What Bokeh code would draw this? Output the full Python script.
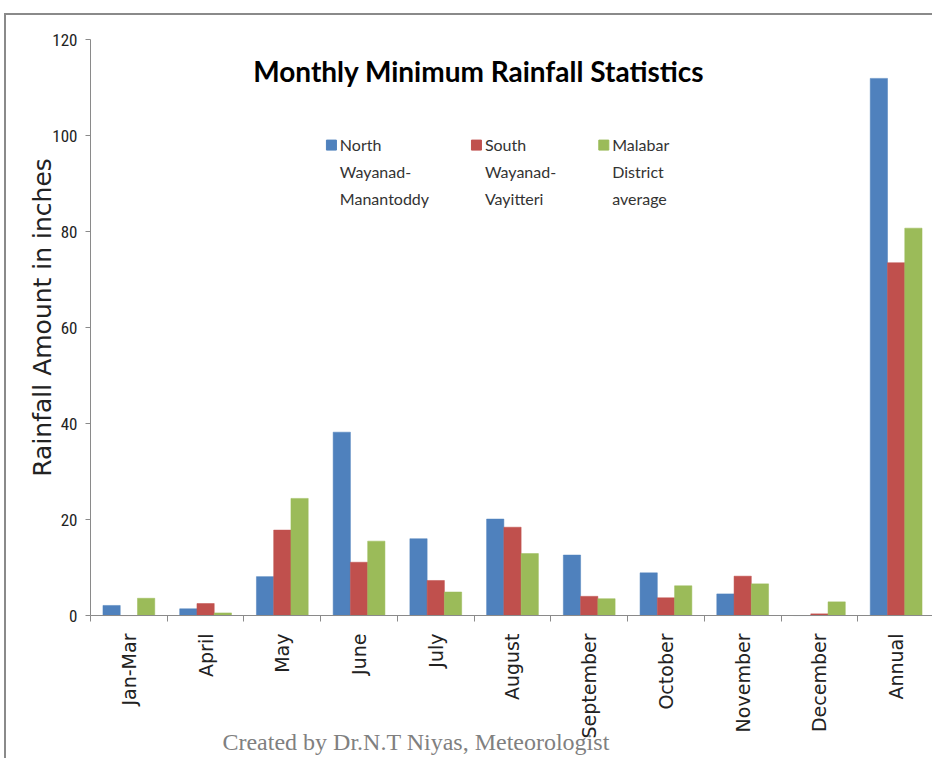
import numpy as np
from bokeh.plotting import figure
from bokeh.models import Range1d, FixedTicker, CustomJSTickFormatter, Label
from bokeh.embed import file_html
from bokeh.resources import INLINE

categories = ["Jan-Mar", "April", "May", "June", "July", "August", "September",
              "October", "November", "December", "Annual"]
north = [2.1, 1.4, 8.1, 38.2, 16.0, 20.1, 12.6, 8.9, 4.5, 0.0, 111.9]
south = [0.0, 2.5, 17.8, 11.1, 7.3, 18.4, 4.0, 3.7, 8.2, 0.35, 73.5]
malabar = [3.6, 0.55, 24.4, 15.5, 4.9, 12.9, 3.5, 6.2, 6.6, 2.85, 80.7]
series_names = [["North", "Wayanad-", "Manantoddy"],
                ["South", "Wayanad-", "Vayitteri"],
                ["Malabar", "District", "average"]]
colors = ["#4F81BD", "#C0504D", "#9BBB59"]
y_ticks = [0, 20, 40, 60, 80, 100, 120]

n = len(categories)
centers = np.arange(n) + 0.5

# The frame covers the whole canvas; both axes sit at fixed locations so that
# the axis title and the credit line can be placed freely around them.
p = figure(width=928, height=745, output_backend="svg", toolbar_location=None,
           x_range=Range1d(-84 * n / 844, n), y_range=Range1d(-30.2, 125),
           min_border_left=0, min_border_right=0, min_border_top=0,
           min_border_bottom=0)
p.styles = {"margin-left": "4px", "margin-top": "13px",
            "border-left": "2px solid #8a8a8a", "border-top": "2px solid #8a8a8a"}
p.outline_line_color = None
p.xgrid.visible = False
p.ygrid.visible = False

bw = 0.225
for k, (vals, c) in enumerate(zip([north, south, malabar], colors)):
    p.vbar(x=centers + (k - 1) * bw, top=vals, width=bw, fill_color=c,
           line_color=c, line_width=0.5)

# x axis: labels at centers, tick marks at boundaries, fixed at y = 0
xa = p.xaxis[0]
xa.fixed_location = 0
xa.bounds = (0, n)
xa.ticker = FixedTicker(ticks=list(centers), minor_ticks=list(range(n + 1)))
xa.formatter = CustomJSTickFormatter(args=dict(labels=categories),
                                     code="return labels[Math.floor(tick)];")
xa.major_label_orientation = np.pi / 2
xa.major_tick_out = 0
xa.major_tick_in = 0
xa.minor_tick_out = 6
xa.minor_tick_in = 0
xa.axis_line_color = "#8a8a8a"
xa.minor_tick_line_color = "#8a8a8a"
xa.major_label_standoff = 12
xa.major_label_text_font = "DejaVu Sans"
xa.major_label_text_font_size = "19px"
xa.major_label_text_color = "#222222"

# y axis fixed at x = 0
ya = p.yaxis[0]
ya.fixed_location = 0
ya.bounds = (0, 120)
ya.ticker = FixedTicker(ticks=y_ticks, minor_ticks=[])
ya.major_tick_out = 5
ya.major_tick_in = 0
ya.axis_line_color = "#8a8a8a"
ya.major_tick_line_color = "#8a8a8a"
ya.major_label_standoff = 8
ya.major_label_text_font = "'Liberation Sans Narrow', 'Roboto Condensed', Roboto"
ya.major_label_text_font_size = "17px"
ya.major_label_text_color = "#222222"

# y axis title
p.add_layout(Label(x=-0.63, y=62.1, text="Rainfall Amount in inches", angle=np.pi / 2,
                   text_align="center", text_baseline="middle",
                   text_font="DejaVu Sans", text_font_size="25px",
                   text_color="#222222"))

# chart title
p.add_layout(Label(x=5.06, y=113.4, text="Monthly Minimum Rainfall Statistics",
                   text_align="center", text_baseline="middle",
                   text_font="Lato", text_font_style="bold",
                   text_font_size="28px", text_color="#000000"))

# legend (manual, multi-line labels)
leg_x = [3.14, 5.03, 6.69]
for k in range(3):
    p.scatter([leg_x[k]], [98.0], marker="square", size=10,
              fill_color=colors[k], line_color=colors[k])
    for j, line in enumerate(series_names[k]):
        p.add_layout(Label(x=leg_x[k] + 0.11, y=98.1 - j * 5.6, text=line,
                           text_align="left", text_baseline="middle",
                           text_font="Lato", text_font_size="16px",
                           text_color="#333333"))

# footer credit
p.add_layout(Label(x=1.72, y=-26.4, text="Created by Dr.N.T Niyas, Meteorologist",
                   text_align="left", text_baseline="alphabetic",
                   text_font="Liberation Serif", text_font_size="24px",
                   text_color="#808080"))

open("out.html", "w").write(file_html(p, INLINE))
